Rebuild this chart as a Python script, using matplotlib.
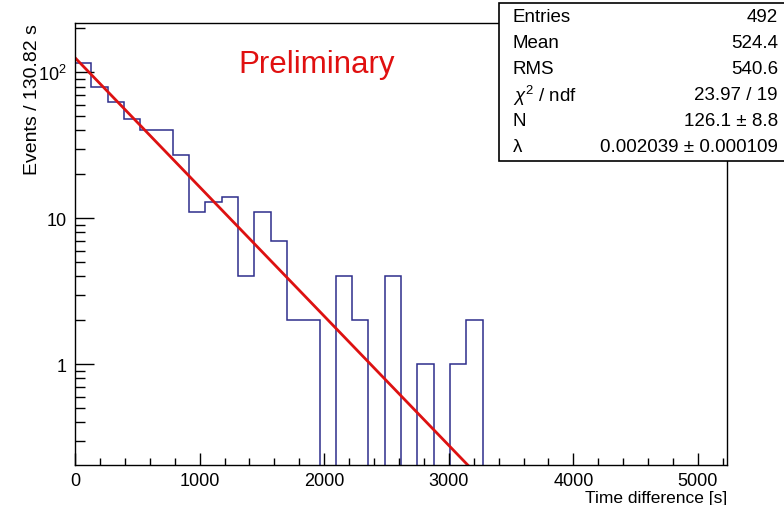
import numpy as np
import matplotlib
matplotlib.use("Agg")
import matplotlib.pyplot as plt
from matplotlib.patches import Rectangle
from matplotlib.ticker import FixedLocator, MultipleLocator, FuncFormatter, NullFormatter

plt.rcParams['font.family'] = ['Liberation Sans', 'DejaVu Sans']
plt.rcParams['mathtext.fontset'] = 'custom'
plt.rcParams['mathtext.rm'] = 'Liberation Sans'
plt.rcParams['mathtext.it'] = 'Liberation Sans:italic'

# histogram data (40 bins of 130.82 s)
bin_width = 130.82
n_bins = 40
counts = [116, 80, 63, 48, 40, 40, 27, 11, 13, 14,
          4, 11, 7, 2, 2, 0, 4, 2, 0, 4,
          0, 1, 0, 1, 2, 0, 0, 0, 0, 0,
          0, 0, 0, 0, 0, 0, 0, 0, 0, 0]

# exponential fit  N * exp(-lambda * t)
fit_N = 126.1
fit_lambda = 0.002039

stat_names = ['Entries', 'Mean', 'RMS', r'$\chi^{2}$ / ndf', 'N', 'λ']
stat_values = ['492', '524.4', '540.6', '23.97 / 19', '126.1 ± 8.8', '0.002039 ± 0.000109']

edges = np.arange(n_bins + 1) * bin_width
c = np.array(counts, dtype=float)
c_plot = np.where(c > 0, c, 1e-3)   # zero bins drop below the log axis

fig = plt.figure(figsize=(7.84, 5.06), dpi=100)
ax = fig.add_axes([75 / 784, 40 / 506, 652 / 784, 442 / 506])

ax.stairs(c_plot, edges, baseline=1e-3, color='#2e2e8c', lw=1.1)

t = np.linspace(0, edges[-1], 400)
ax.plot(t, fit_N * np.exp(-fit_lambda * t), color='#dd1111', lw=2.0)

ax.set_yscale('log')
ax.set_xlim(0, edges[-1])
ax.set_ylim(0.204, 218)

# ROOT-like ticks
ax.xaxis.set_major_locator(MultipleLocator(1000))
ax.xaxis.set_minor_locator(MultipleLocator(200))
ax.yaxis.set_major_locator(FixedLocator([1, 10, 100]))
minor = [m * 10.0 ** d for d in (-1, 0, 1, 2) for m in range(2, 10)]
ax.yaxis.set_minor_locator(FixedLocator(minor))
ax.yaxis.set_minor_formatter(NullFormatter())

def ylab(v, pos):
    if v >= 100:
        return r'$10^{2}$'
    return '%d' % v

ax.yaxis.set_major_formatter(FuncFormatter(ylab))
ax.tick_params(axis='both', which='both', direction='in', labelsize=13, colors='black')
ax.tick_params(axis='x', which='major', length=9, width=1, pad=5)
ax.tick_params(axis='x', which='minor', length=5, width=1)
ax.tick_params(axis='y', which='major', length=14, width=1, pad=6)
ax.tick_params(axis='y', which='minor', length=7, width=1)
for s in ax.spines.values():
    s.set_linewidth(1.0)

ax.set_xlabel('Time difference [s]', fontsize=12.5, loc='right', labelpad=1)
ax.set_ylabel('Events / %.2f s' % bin_width, fontsize=14, loc='top', labelpad=-2)

ax.text(0.25, 0.907, 'Preliminary', transform=ax.transAxes, color='#e01010',
        fontsize=22.5, ha='left', va='center')

# stats box
W, H = 784.0, 506.0
box_top, row_h = 4, 26
box = Rectangle((499 / W, 1 - (box_top + row_h * 6 + 2) / H), 300 / W, (row_h * 6 + 2) / H,
                transform=fig.transFigure, facecolor='white', edgecolor='black',
                lw=1.2, zorder=5, clip_on=False)
fig.patches.append(box)
for i, (name, val) in enumerate(zip(stat_names, stat_values)):
    yc = 1 - (box_top + row_h * (i + 0.5) + 1) / H
    fig.text(513 / W, yc, name, fontsize=13.5, ha='left', va='center', zorder=6)
    fig.text(778 / W, yc, val, fontsize=13.5, ha='right', va='center', zorder=6)

fig.savefig('out.png', dpi=100)
